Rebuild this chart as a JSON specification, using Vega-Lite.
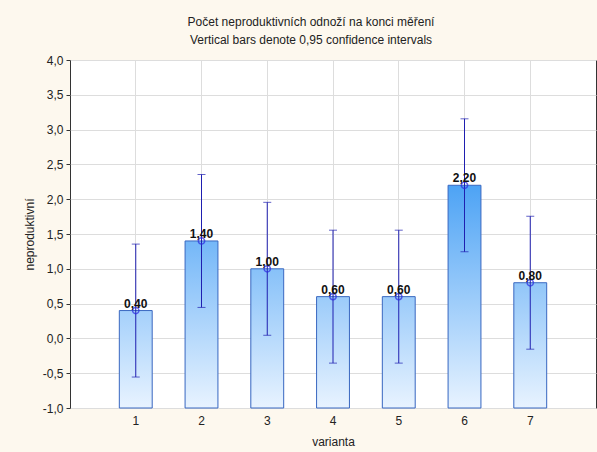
{
  "$schema": "https://vega.github.io/schema/vega-lite/v6.json",
  "width": 526,
  "height": 348,
  "autosize": "none",
  "padding": {"left": 70, "top": 60, "right": 1, "bottom": 44},
  "background": "#fdf8ee",
  "config": {
    "locale": {"number": {"decimal": ",", "thousands": " ", "grouping": [3], "currency": ["", " Kč"], "minus": "-"}},
    "font": "Liberation Sans",
    "view": {"fill": "white", "stroke": "#333333", "strokeWidth": 1},
    "axis": {
      "labelFont": "Liberation Sans",
      "titleFont": "Liberation Sans",
      "labelFontSize": 12,
      "titleFontSize": 12,
      "titleFontWeight": "normal",
      "labelColor": "#222222",
      "titleColor": "#222222",
      "gridColor": "#dddddd",
      "gridWidth": 1,
      "domain": false,
      "tickColor": "#333333"
    }
  },
  "title": {
    "text": ["Počet neproduktivních odnoží na konci měření", "Vertical bars denote 0,95 confidence intervals"],
    "font": "Liberation Sans",
    "fontSize": 12,
    "fontWeight": "normal",
    "color": "#222222",
    "lineHeight": 18,
    "offset": 7,
    "dx": -22,
    "anchor": "middle"
  },
  "data": {
    "values": [
      {"varianta": "1", "mean": 0.4, "lo": -0.555, "hi": 1.355},
      {"varianta": "2", "mean": 1.4, "lo": 0.445, "hi": 2.355},
      {"varianta": "3", "mean": 1.0, "lo": 0.045, "hi": 1.955},
      {"varianta": "4", "mean": 0.6, "lo": -0.355, "hi": 1.555},
      {"varianta": "5", "mean": 0.6, "lo": -0.355, "hi": 1.555},
      {"varianta": "6", "mean": 2.2, "lo": 1.245, "hi": 3.155},
      {"varianta": "7", "mean": 0.8, "lo": -0.155, "hi": 1.755}
    ]
  },
  "encoding": {
    "x": {
      "field": "varianta",
      "type": "ordinal",
      "scale": {"paddingInner": 0.5, "paddingOuter": 0.75},
      "axis": {
        "title": "varianta",
        "labelAngle": 0,
        "bandPosition": 0.5,
        "grid": true,
        "ticks": false,
        "labelPadding": 7,
        "titlePadding": 10
      }
    }
  },
  "layer": [
    {
      "mark": {"type": "bar"},
      "encoding": {
        "y": {
          "field": "mean",
          "type": "quantitative",
          "scale": {"domain": [-1, 4], "nice": false, "zero": false},
          "axis": {"title": "neproduktivní", "values": [-1, -0.5, 0, 0.5, 1, 1.5, 2, 2.5, 3, 3.5, 4], "tickCount": 30, "format": ".1f", "grid": true, "tickSize": 4, "labelPadding": 3, "titlePadding": 6}
        },
        "y2": {"datum": -1},
        "color": {
          "field": "mean",
          "type": "quantitative",
          "scale": {"domain": [-1, 2.2], "range": ["#e8f3ff", "#4da3f5"], "interpolate": "rgb"},
          "legend": null
        }
      }
    },
    {
      "mark": {
        "type": "bar",
        "fill": {
          "gradient": "linear",
          "x1": 0, "y1": 0, "x2": 0, "y2": 1,
          "stops": [
            {"offset": 0, "color": "rgba(232,243,255,0)"},
            {"offset": 1, "color": "rgba(232,243,255,1)"}
          ]
        },
        "stroke": "#3a68c0",
        "strokeWidth": 1
      },
      "encoding": {
        "y": {"field": "mean", "type": "quantitative"},
        "y2": {"datum": -1}
      }
    },
    {
      "mark": {"type": "rule", "color": "#1f1fb0", "strokeWidth": 1},
      "encoding": {
        "y": {"field": "lo", "type": "quantitative"},
        "y2": {"field": "hi"}
      }
    },
    {
      "mark": {"type": "tick", "orient": "horizontal", "size": 8, "thickness": 1, "color": "#1f1fb0"},
      "encoding": {"y": {"field": "hi", "type": "quantitative"}}
    },
    {
      "mark": {"type": "tick", "orient": "horizontal", "size": 8, "thickness": 1, "color": "#1f1fb0"},
      "encoding": {"y": {"field": "lo", "type": "quantitative"}}
    },
    {
      "mark": {"type": "point", "shape": "circle", "size": 40, "filled": false, "strokeWidth": 1.5, "color": "#2a2ae0"},
      "encoding": {"y": {"field": "mean", "type": "quantitative"}}
    },
    {
      "mark": {"type": "text", "fontWeight": "bold", "fontSize": 12, "baseline": "alphabetic", "dy": -3, "color": "#111111", "font": "Liberation Sans"},
      "encoding": {
        "y": {"field": "mean", "type": "quantitative"},
        "text": {"field": "mean", "type": "quantitative", "format": ".2f"}
      }
    }
  ]
}
